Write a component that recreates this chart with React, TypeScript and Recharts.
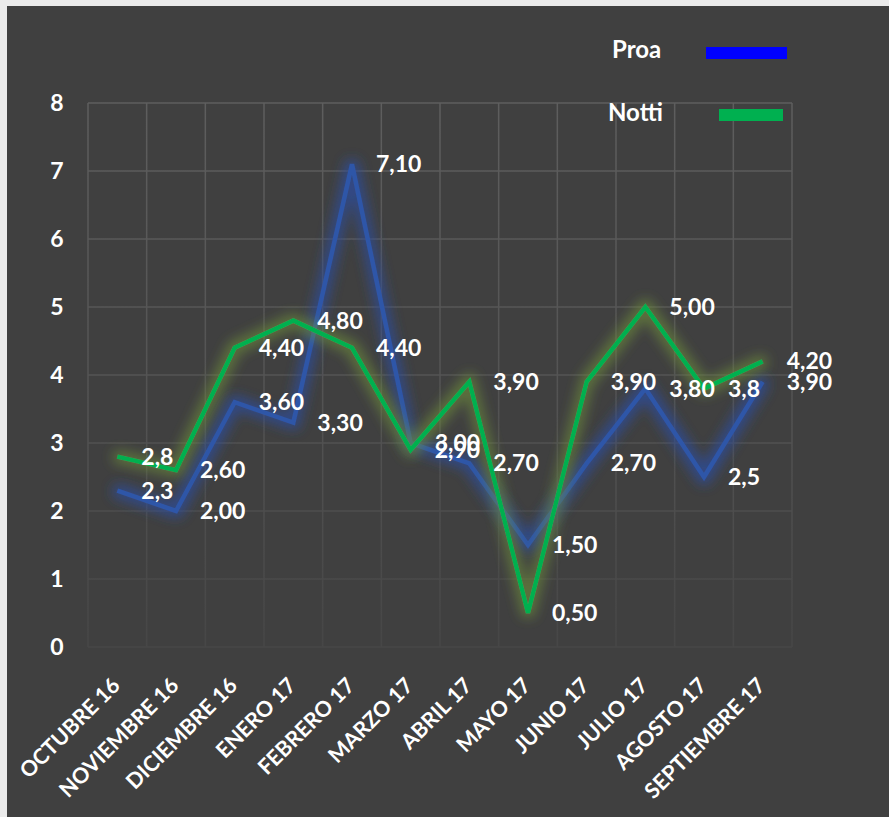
import React from "react";
import { LineChart, Line, XAxis, YAxis, CartesianGrid, LabelList, Legend } from "recharts";

const months = [
  "OCTUBRE 16",
  "NOVIEMBRE 16",
  "DICIEMBRE 16",
  "ENERO 17",
  "FEBRERO 17",
  "MARZO 17",
  "ABRIL 17",
  "MAYO 17",
  "JUNIO 17",
  "JULIO 17",
  "AGOSTO 17",
  "SEPTIEMBRE 17",
];
const proa = [2.3, 2.0, 3.6, 3.3, 7.1, 3.0, 2.7, 1.5, 2.7, 3.8, 2.5, 3.9];
const notti = [2.8, 2.6, 4.4, 4.8, 4.4, 2.9, 3.9, 0.5, 3.9, 5.0, 3.8, 4.2];
const proaLabels = ["2,3", "2,00", "3,60", "3,30", "7,10", "3,00", "2,70", "1,50", "2,70", "3,80", "2,5", "3,90"];
const nottiLabels = ["2,8", "2,60", "4,40", "4,80", "4,40", "2,90", "3,90", "0,50", "3,90", "5,00", "3,8", "4,20"];
const yTicks = [0, 1, 2, 3, 4, 5, 6, 7, 8];

const data = months.map((m, i) => ({
  month: m,
  proa: proa[i],
  notti: notti[i],
  proaLabel: proaLabels[i],
  nottiLabel: nottiLabels[i],
}));

const FONT = "Lato, 'Open Sans', sans-serif";
const W = 882;
const H = 811;

function ValueLabel(props: any) {
  const x = props.x ?? props.viewBox?.x;
  const y = props.y ?? props.viewBox?.y;
  return (
    <text x={x + 24} y={y + 8} fill="#ffffff" fontSize={23} fontWeight={700} fontFamily={FONT}>
      {props.value}
    </text>
  );
}

function MonthTick({ x, y, payload }: any) {
  const ax = x + 4;
  const ay = y + 40;
  return (
    <text
      x={ax}
      y={ay}
      transform={`rotate(-45, ${ax}, ${ay})`}
      textAnchor="end"
      fill="#ffffff"
      fontSize={21.5}
      fontWeight={700}
      fontFamily={FONT}
    >
      {payload.value}
    </text>
  );
}

function ValueTick({ x, y, payload }: any) {
  return (
    <text x={x - 31} y={y + 8} textAnchor="middle" fill="#ffffff" fontSize={23} fontWeight={700} fontFamily={FONT}>
      {payload.value}
    </text>
  );
}

function SeriesLegend() {
  return (
    <svg width={W} height={H} style={{ position: "absolute", left: 0, top: 0 }}>
      <text x={605} y={52} fill="#ffffff" fontSize={24} fontWeight={700} fontFamily={FONT}>
        Proa
      </text>
      <rect x={699} y={41} width={81} height={12} fill="#0000ff" />
      <text x={601} y={115} fill="#ffffff" fontSize={24} fontWeight={700} fontFamily={FONT}>
        Notti
      </text>
      <rect x={712} y={103} width={64} height={12} fill="#00b050" />
    </svg>
  );
}

export default function App() {
  return (
    <div style={{ position: "absolute", left: 0, top: 0, width: 889, height: 817, background: "#ebebeb" }}>
      <div style={{ position: "absolute", left: 7, top: 6, width: W, height: H, background: "#404040" }}>
        <LineChart width={W} height={H} data={data} margin={{ top: 97, right: 97, left: 0, bottom: 0 }}>
          <defs>
            <linearGradient id="gridFade" gradientUnits="userSpaceOnUse" x1="0" y1="90" x2="0" y2="650">
              <stop offset="0%" stopColor="#5e5e5e" />
              <stop offset="55%" stopColor="#535353" />
              <stop offset="100%" stopColor="#464646" />
            </linearGradient>
            <filter id="glowBlue" filterUnits="userSpaceOnUse" x="0" y="0" width={W} height={H}>
              <feMorphology in="SourceAlpha" operator="dilate" radius="4" result="d" />
              <feGaussianBlur in="d" stdDeviation="6" result="b" />
              <feFlood floodColor="#2c4c9c" floodOpacity="0.75" />
              <feComposite in2="b" operator="in" result="g" />
              <feMerge>
                <feMergeNode in="g" />
                <feMergeNode in="SourceGraphic" />
              </feMerge>
            </filter>
            <filter id="glowGreen" filterUnits="userSpaceOnUse" x="0" y="0" width={W} height={H}>
              <feMorphology in="SourceAlpha" operator="dilate" radius="4" result="d" />
              <feGaussianBlur in="d" stdDeviation="6" result="b" />
              <feFlood floodColor="#6e8f3a" floodOpacity="0.6" />
              <feComposite in2="b" operator="in" result="g" />
              <feMerge>
                <feMergeNode in="g" />
                <feMergeNode in="SourceGraphic" />
              </feMerge>
            </filter>
          </defs>
          <CartesianGrid
            stroke="url(#gridFade)"
            strokeWidth={1.5}
            verticalCoordinatesGenerator={({ offset }: any) =>
              Array.from({ length: months.length + 1 }, (_, i) => offset.left + (offset.width * i) / months.length)
            }
          />
          <XAxis
            dataKey="month"
            scale="band"
            interval={0}
            axisLine={false}
            tickLine={false}
            tickSize={0}
            tickMargin={0}
            height={170}
            tick={<MonthTick />}
          />
          <YAxis
            domain={[0, 8]}
            ticks={yTicks}
            width={81}
            axisLine={false}
            tickLine={false}
            tickSize={0}
            tickMargin={0}
            tick={<ValueTick />}
          />
          <Legend
            layout="vertical"
            align="center"
            verticalAlign="middle"
            content={() => <SeriesLegend />}
            wrapperStyle={{ left: 0, top: 0, width: W, height: H, pointerEvents: "none" }}
          />
          <Line
            type="linear"
            dataKey="proa"
            name="Proa"
            stroke="#2f56a8"
            strokeWidth={4.5}
            dot={false}
            filter="url(#glowBlue)"
            isAnimationActive={false}
          >
            <LabelList dataKey="proaLabel" content={<ValueLabel />} />
          </Line>
          <Line
            type="linear"
            dataKey="notti"
            name="Notti"
            stroke="#00b050"
            strokeWidth={4.5}
            dot={false}
            filter="url(#glowGreen)"
            isAnimationActive={false}
          >
            <LabelList dataKey="nottiLabel" content={<ValueLabel />} />
          </Line>
        </LineChart>
      </div>
    </div>
  );
}
